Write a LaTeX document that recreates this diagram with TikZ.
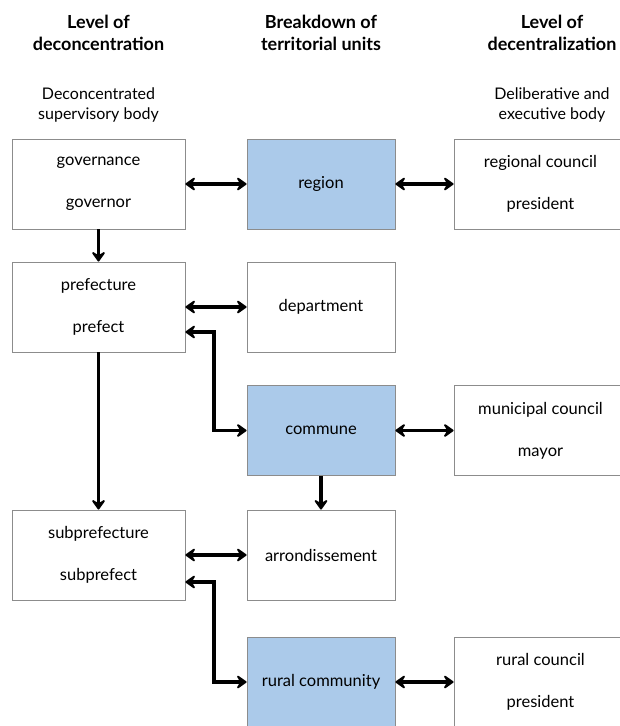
\documentclass[tikz,border=0pt]{standalone}
\usepackage{fontspec}
\setmainfont{Lato}
\usetikzlibrary{arrows.meta}

\definecolor{unitblue}{RGB}{171,202,234}
\definecolor{boxgray}{RGB}{140,140,140}

\tikzset{
  box/.style={draw=boxgray, line width=0.9pt, fill=white, align=center,
    minimum height=90pt, inner sep=0pt,
    font=\fontsize{16.5}{42}\selectfont},
  sidebox/.style={box, minimum width=173pt},
  unitbox/.style={box, minimum width=148pt},
  unit/.style={unitbox, fill=unitblue},
  head/.style={align=center, font=\bfseries\fontsize{18}{22}\selectfont},
  subhead/.style={align=center, font=\fontsize{16}{20}\selectfont},
  tip/.tip={Stealth[length=12pt,width=17pt,inset=5pt,round]},
  link/.style={line width=3.2pt, tip-tip},
  down/.style={line width=3.2pt, -tip}
}

\begin{document}
\begin{tikzpicture}[x=1pt, y=-1pt]
            \useasboundingbox (0,0) rectangle (619,726);

            % Titles of the columns
            \node[head] (hleft) at (98.5,33) {Level of\\deconcentration};
            \node[head] (hmid) at (321,33) {Breakdown of\\territorial units};
            \node[head] (hright) at (552,33) {Level of\\decentralization};
            \node[subhead] (sleft) at (98.5,105) {Deconcentrated\\supervisory body};
            \node[subhead] (sright) at (552,105) {Deliberative and\\executive body};

            % Left column
            \node[sidebox] (gov) at (98.5,184) {governance\\governor};
            \node[sidebox] (pref) at (98.5,307) {prefecture\\prefect};
            \node[sidebox] (subpref) at (98.5,555) {subprefecture\\subprefect};

            % Middle column
            \node[unit] (region) at (321,184) {region};
            \node[unitbox] (dept) at (321,307) {department};
            \node[unit] (commune) at (321,430.5) {commune};
            \node[unitbox] (arr) at (321,555) {arrondissement};
            \node[unit] (rural) at (321,682) {rural community};

            % Right column
            \node[sidebox] (regc) at (540.5,184) {regional council\\president};
            \node[sidebox] (munc) at (540.5,430.5) {municipal council\\mayor};
            \node[sidebox] (rurc) at (540.5,682) {rural council\\president};

            % Horizontal links
            \draw[link] (gov) -- (region);
            \draw[link] (region) -- (regc);
            \draw[link] (pref) -- (dept);
            \draw[link] (commune) -- (munc);
            \draw[link] (subpref) -- (arr);
            \draw[link] (rural) -- (rurc);

            % Vertical links
            \draw[down] (gov) -- (pref);
            \draw[down] (pref) -- (subpref);
            \draw[down] (commune) -- (arr);

            % Elbow links
            \draw[link] ([yshift=-25pt]pref.east) -| (214,0 |- commune.west) -- (commune.west);
            \draw[link] ([yshift=-27pt]subpref.east) -| (214,0 |- rural.west) -- (rural.west);
\end{tikzpicture}
\end{document}
